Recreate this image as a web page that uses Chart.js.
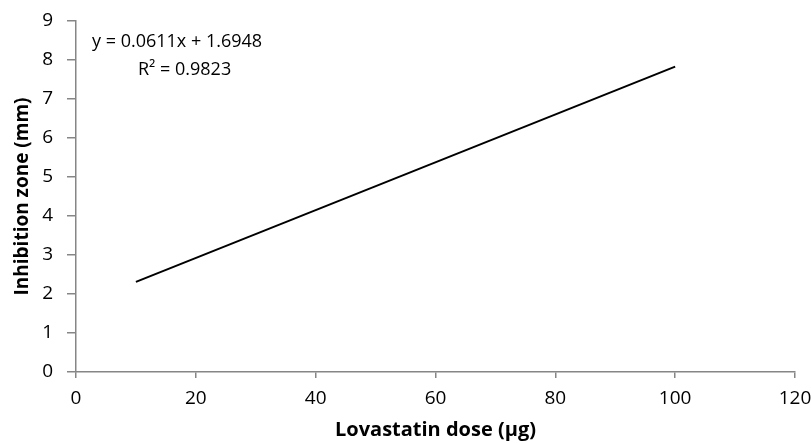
<!DOCTYPE html>
<html>
<head>
<meta charset="utf-8">
<script src="https://cdn.jsdelivr.net/npm/chart.js@4/dist/chart.umd.min.js"></script>
<style>
  html, body { margin: 0; padding: 0; background: #fff; }
  #wrap { width: 811px; height: 443px; }
</style>
</head>
<body>
<div id="wrap"><canvas id="doseChart"></canvas></div>
<script>
// trendline end points (Lovastatin dose vs inhibition zone)
const doseValues = [10, 100];
const zoneValues = [2.31, 7.83];
const xTicks = [0, 20, 40, 60, 80, 100, 120];
const yTicks = [0, 1, 2, 3, 4, 5, 6, 7, 8, 9];
const equationLines = ['y = 0.0611x + 1.6948', 'R² = 0.9823'];

const axisGray = '#868686';
const fontFamily = "'Open Sans', 'Liberation Sans', sans-serif";

// equation label in the top-left corner of the plot
const equationLabel = {
    id: 'equationLabel',
    afterDraw(chart) {
        const ctx = chart.ctx;
        ctx.save();
        ctx.fillStyle = '#000';
        ctx.font = '18px ' + fontFamily;
        ctx.textBaseline = 'middle';
        ctx.textAlign = 'left';
        ctx.fillText(equationLines[0], 92, 42);
        ctx.fillText(equationLines[1], 138, 70);
        ctx.restore();
    }
};

const ctx = document.getElementById('doseChart').getContext('2d');
new Chart(ctx, {
    type: 'scatter',
    data: {
        datasets: [{
            label: 'Trendline',
            data: doseValues.map((x, i) => ({ x: x, y: zoneValues[i] })),
            showLine: true,
            borderColor: '#000',
            borderWidth: 2,
            pointRadius: 0,
            fill: false
        }]
    },
    options: {
        responsive: true,
        maintainAspectRatio: false,
        animation: false,
        layout: { padding: { top: 21, right: 16, left: 0, bottom: 0 } },
        plugins: {
            legend: { display: false },
            tooltip: { enabled: false }
        },
        scales: {
            x: {
                type: 'linear',
                min: 0,
                max: 120,
                afterBuildTicks: (axis) => { axis.ticks = xTicks.map(v => ({ value: v })); },
                afterFit: (axis) => {
                    axis.height = 71;
                    axis.paddingLeft = 0;
                    axis.paddingRight = 0;
                },
                grid: { drawOnChartArea: false, drawTicks: true, tickLength: 6, color: axisGray, lineWidth: 1.5 },
                border: { color: axisGray, width: 1.5 },
                ticks: { color: '#000', font: { family: fontFamily, size: 19 }, padding: 9, maxRotation: 0 },
                title: {
                    display: true,
                    text: 'Lovastatin dose (µg)',
                    color: '#000',
                    font: { family: fontFamily, size: 20, weight: 'bold' },
                    padding: { top: 0, bottom: 1 }
                }
            },
            y: {
                type: 'linear',
                min: 0,
                max: 9,
                afterBuildTicks: (axis) => { axis.ticks = yTicks.map(v => ({ value: v })); },
                afterFit: (axis) => {
                    axis.width = 76;
                    axis.paddingTop = 0;
                    axis.paddingBottom = 0;
                },
                grid: { drawOnChartArea: false, drawTicks: true, tickLength: 9, color: axisGray, lineWidth: 1.5 },
                border: { color: axisGray, width: 1.5 },
                ticks: { color: '#000', font: { family: fontFamily, size: 19 }, padding: 14 },
                title: {
                    display: true,
                    text: 'Inhibition zone (mm)',
                    color: '#000',
                    font: { family: fontFamily, size: 19, weight: 'bold' },
                    padding: { top: 11, bottom: 0 }
                }
            }
        }
    },
    plugins: [equationLabel]
});
</script>
</body>
</html>
